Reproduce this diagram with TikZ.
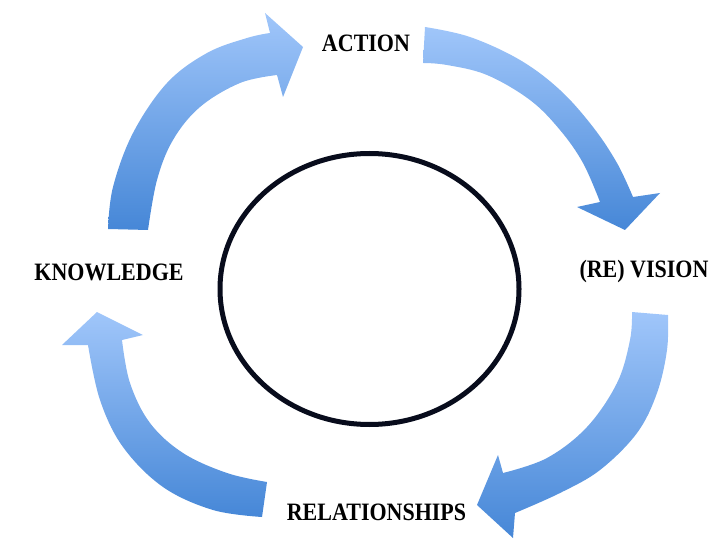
\documentclass[tikz,border=0pt]{standalone}
\usepackage{fontspec}
\setmainfont{Liberation Serif}
\definecolor{arrlight}{RGB}{160,198,250}
\definecolor{arrdark}{RGB}{70,135,215}
\definecolor{ringcol}{RGB}{8,12,28}
\begin{document}
\begin{tikzpicture}[x=1pt,y=-1pt,
  arrowshape/.style={top color=arrlight,bottom color=arrdark,draw=none},
  label/.style={font=\fontsize{25}{30}\selectfont\bfseries,xscale=0.88,anchor=base,inner sep=0pt},
  ring/.style={draw=ringcol,line width=5pt}]
\useasboundingbox (0,0) rectangle (720,540);
% top-left arrow (KNOWLEDGE -> ACTION)
\path[arrowshape] plot[smooth,tension=0.6] coordinates {(108,229) (113,187) (133,133) (167,83) (207,53) (247,38) (270,33)}
  -- (265,13) -- (303,47) -- (283,97) -- (277,75)
  -- plot[smooth,tension=0.6] coordinates {(277,75) (240,83) (200,107) (173,140) (157,180) (148,230)} -- cycle;
% top-right arrow (ACTION -> (RE) VISION)
\path[arrowshape] plot[smooth,tension=0.6] coordinates {(425,27) (470,37) (520,60) (560,90) (593,127) (617,163) (633,197)}
  -- (660,193) -- (625,230) -- (577,207) -- (600,202)
  -- plot[smooth,tension=0.6] coordinates {(600,202) (583,163) (560,130) (530,100) (487,75) (447,65) (423,63)} -- cycle;
% bottom-right arrow ((RE) VISION -> RELATIONSHIPS)
\path[arrowshape] plot[smooth,tension=0.6] coordinates {(668,315) (667,350) (657,393) (637,433) (600,470) (560,493) (515,513)}
  -- (513,538) -- (477,505) -- (498,455) -- (503,473)
  -- plot[smooth,tension=0.6] coordinates {(503,473) (547,458) (587,427) (617,383) (630,340) (632,312)} -- cycle;
% bottom-left arrow (RELATIONSHIPS -> KNOWLEDGE)
\path[arrowshape] plot[smooth,tension=0.6] coordinates {(262,517) (213,510) (163,487) (123,447) (100,400) (88,345)}
  -- (62,345) -- (97,312) -- (143,335) -- (122,340)
  -- plot[smooth,tension=0.6] coordinates {(122,340) (130,383) (150,423) (183,453) (227,473) (267,482)} -- cycle;
% central ring
\coordinate (centre) at (369.5,289);
\draw[ring] (centre) ellipse [x radius=149.5,y radius=135.5];
% labels
\node[label] (action) at (366,52) {ACTION};
\node[label] (vision) at (644,277) {(RE) VISION};
\node[label] (relations) at (376.5,520) {RELATIONSHIPS};
\node[label] (knowledge) at (109,280) {KNOWLEDGE};
\end{tikzpicture}
\end{document}
